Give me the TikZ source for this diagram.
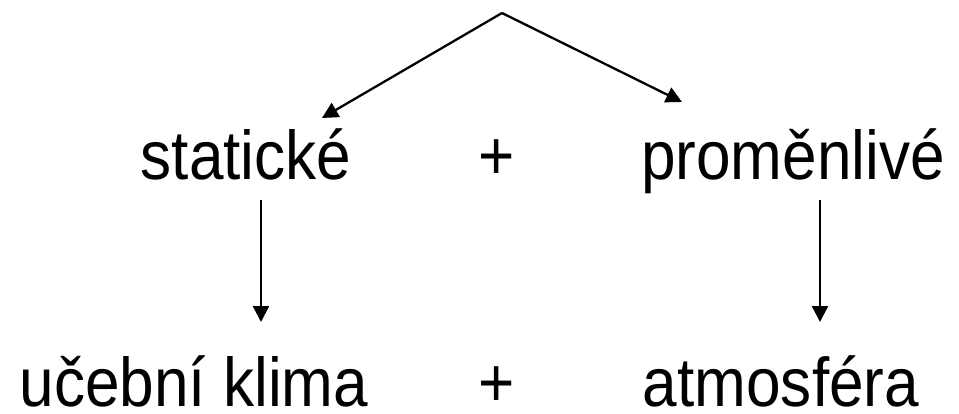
\documentclass[tikz,border=0pt]{standalone}
\usepackage{fontspec}
\setmainfont[FakeStretch=0.9]{Liberation Sans}
\usetikzlibrary{arrows.meta}
\begin{document}
\begin{tikzpicture}[x=1pt,y=1pt,
  lbl/.style={anchor=base,inner sep=0pt,font=\fontsize{69}{76}\selectfont},
  conn/.style={line width=2.3pt,-{Triangle[width=16pt,length=16pt]}}]
\useasboundingbox (0,0) rectangle (959,413);
\node[lbl] (stat) at (246,233) {statické};
\node[lbl] (plus1) at (497,233) {+};
\node[lbl] (prom) at (793,233) {proměnlivé};
\node[lbl] (uceb) at (194,7) {učební klima};
\node[lbl] (plus2) at (497,7) {+};
\node[lbl] (atmo) at (781,7) {atmosféra};
\coordinate (apex) at (502,400);
\coordinate (tl) at (322,295);
\coordinate (tr) at (682,311);
\coordinate (ls) at (261,213);
\coordinate (le) at (261,91);
\coordinate (rs) at (820,213);
\coordinate (re) at (820,91);
\draw[conn] (apex) -- (tl);
\draw[conn] (apex) -- (tr);
\draw[conn] (ls) -- (le);
\draw[conn] (rs) -- (re);
\end{tikzpicture}
\end{document}
